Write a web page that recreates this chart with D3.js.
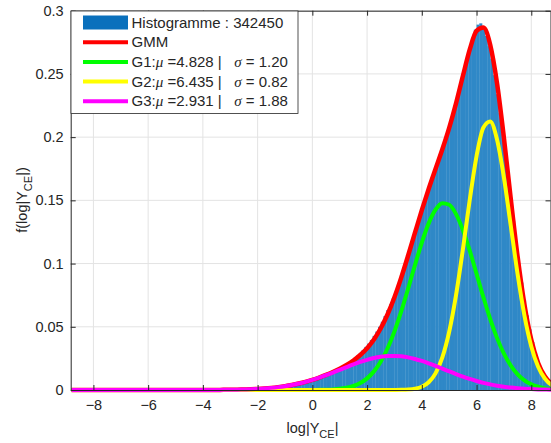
<!DOCTYPE html>
<html><head><meta charset="utf-8">
<script src="https://cdn.jsdelivr.net/npm/d3@7"></script>
<style>
body{margin:0;background:#fff}
svg{display:block}
text{font-family:"Liberation Sans",Arial,Helvetica,sans-serif;fill:#262626}
</style>
</head><body><svg id="c" width="551" height="443"></svg>
<script>
// ---------- data ----------
const curveX = [-8.8,-6,-4,-3.75,-3.5,-3.25,-3,-2.75,-2.5,-2.25,-2,-1.75,-1.5,-1.25,-1,-0.75,-0.5,-0.25,
  0,0.25,0.5,0.75,1,1.25,1.5,1.75,2,2.25,2.5,2.75,3,3.25,3.5,3.75,4,4.25,4.5,4.75,5,5.25,5.5,5.75,
  6,6.25,6.5,6.75,7,7.25,7.5,7.75,8,8.25,8.5,8.75,8.8];
const gmmY = [0,0,0.00003,0.00005,0.00008,0.00012,0.00019,0.00028,0.00042,0.00061,0.00087,0.00122,0.00168,0.00228,0.00303,0.00397,0.00511,0.00647,
  0.00806,0.00987,0.01192,0.01424,0.01685,0.01984,0.02337,0.02768,0.03309,0.04002,0.04884,0.05993,0.07339,0.08906,0.10637,0.12441,
  0.14221,0.15902,0.17479,0.19039,0.2073,0.22672,0.24833,0.26919,0.284,0.28666,0.27288,0.24232,0.19936,0.15123,0.10546,0.06752,
  0.03967,0.02141,0.01065,0.00489,0.00416];
const g1Y = [0,0,0,0,0,0,0,0,0,0,0,0,0,0,0,0,0,0,
  0.00005,0.0001,0.00022,0.00046,0.00091,0.00174,0.00317,0.00551,0.00921,0.01473,0.02254,0.03305,0.04638,0.06234,0.08023,0.09886,
  0.11665,0.13179,0.14257,0.14769,0.14649,0.13912,0.12653,0.11017,0.09185,0.07333,0.05608,0.04103,0.02877,0.01933,0.0124,0.00764,
  0.0045,0.00254,0.00137,0.00071,0.00062];
const g2Y = [0,0,0,0,0,0,0,0,0,0,0,0,0,0,0,0,0,0,
  0,0,0,0,0,0,0,0,0,0,0,0,0.00003,0.00011,0.00035,0.001,
  0.00259,0.00612,0.01316,0.02579,0.04607,0.07498,0.11119,0.15025,0.18503,0.20765,0.21234,0.19786,0.16799,0.12997,0.09165,0.05887,
  0.03446,0.01838,0.00894,0.00396,0.00333];
const g3Y = [0,0,0.00003,0.00005,0.00008,0.00012,0.00019,0.00028,0.00042,0.00061,0.00087,0.00122,0.00168,0.00228,0.00303,0.00397,0.00511,0.00646,
  0.00801,0.00977,0.0117,0.01378,0.01594,0.0181,0.0202,0.02217,0.02388,0.02529,0.0263,0.02688,0.02698,0.02661,0.02579,0.02455,
  0.02297,0.02111,0.01906,0.01691,0.01474,0.01262,0.01061,0.00877,0.00712,0.00568,0.00446,0.00343,0.0026,0.00193,0.00141,0.00101,
  0.00071,0.00049,0.00034,0.00022,0.00021];

const histStart = -3.0, histBinWidth = 0.1;
const histValues = [
  0.0002,0.0002,0.0002,0.0003,0.0003,0.0004,0.0004,0.0005,0.0006,0.0007,
  0.0008,0.0009,0.0010,0.0012,0.0014,0.0016,0.0018,0.0020,0.0023,0.0026,
  0.0029,0.0033,0.0036,0.0041,0.0046,0.0050,0.0056,0.0062,0.0069,0.0075,
  0.0082,0.0089,0.0096,0.0104,0.0113,0.0122,0.0131,0.0141,0.0152,0.0164,
  0.0177,0.0190,0.0204,0.0219,0.0236,0.0254,0.0272,0.0293,0.0316,0.0341,
  0.0367,0.0396,0.0428,0.0462,0.0500,0.0540,0.0585,0.0632,0.0677,0.0725,
  0.0778,0.0840,0.0905,0.0972,0.1040,0.1108,0.1180,0.1250,0.1318,0.1388,
  0.1458,0.1525,0.1590,0.1650,0.1712,0.1778,0.1840,0.1905,0.1970,0.2040,
  0.2110,0.2186,0.2268,0.2352,0.2440,0.2528,0.2620,0.2705,0.2785,0.2850,
  0.2890,0.2900,0.2860,0.2800,0.2720,0.2620,0.2490,0.2340,0.2190,0.2030,
  0.1870,0.1700,0.1520,0.1340,0.1160,0.0990,0.0850,0.0710,0.0590,0.0480,
  0.0380,0.0300,0.0220,0.0170,0.0125,0.0090,0.0067,0.0050];

const xTicks = [-8,-6,-4,-2,0,2,4,6,8];
const yTicks = [0,0.05,0.1,0.15,0.2,0.25,0.3];
const yTickLabels = ["0","0.05","0.1","0.15","0.2","0.25","0.3"];
const legendNames = ["Histogramme : 342450","GMM","G1","G2","G3"];
const gMu = ["4.828","6.435","2.931"];
const gSigma = ["1.20","0.82","1.88"];

// ---------- layout ----------
const L = 70.7, R = 551, T = 10.7, B = 390;
const svg = d3.select("#c");
const x = d3.scaleLinear().domain([-8.83, 8.72]).range([L, R]);
const y = d3.scaleLinear().domain([0, 0.3]).range([B, T]);
const gridCol = "#e3e3e3", axCol = "#262626";
const NB = "\u00a0";

// grid
svg.append("g").selectAll("line").data(xTicks).join("line")
  .attr("x1", d => x(d)).attr("x2", d => x(d)).attr("y1", T).attr("y2", B)
  .attr("stroke", gridCol).attr("stroke-width", 1);
svg.append("g").selectAll("line").data(yTicks).join("line")
  .attr("y1", d => y(d)).attr("y2", d => y(d)).attr("x1", L).attr("x2", R)
  .attr("stroke", gridCol).attr("stroke-width", 1);

// histogram
const bins = histValues.map((v, i) => ({x0: histStart + i * histBinWidth, x1: histStart + (i + 1) * histBinWidth, v}));
svg.append("g").selectAll("rect").data(bins).join("rect")
  .attr("x", d => x(d.x0)).attr("width", d => x(d.x1) - x(d.x0) + 0.3)
  .attr("y", d => y(d.v)).attr("height", d => y(0) - y(d.v))
  .attr("fill", "#2f88c7");

// curves
const mk = ys => curveX.map((cx, i) => [cx, ys[i]]);
const line = d3.line().x(d => x(d[0])).y(d => y(d[1])).curve(d3.curveMonotoneX);
const series = [
  {d: gmmY, c: "#ff0000", w: 4.5},
  {d: g1Y, c: "#00ff00", w: 4},
  {d: g2Y, c: "#ffff00", w: 4},
  {d: g3Y, c: "#ff00ff", w: 4}
];
series.forEach(s => {
  svg.append("path").attr("d", line(mk(s.d))).attr("fill", "none")
    .attr("stroke", s.c).attr("stroke-width", s.w).attr("stroke-linejoin", "round");
});

// axes
const xAxisB = d3.axisBottom(x).tickValues(xTicks).tickSizeInner(-5).tickSizeOuter(0).tickPadding(10);
const xAxisT = d3.axisTop(x).tickValues(xTicks).tickSizeInner(-5).tickSizeOuter(0).tickFormat("");
const yAxisL = d3.axisLeft(y).tickValues(yTicks).tickSizeInner(-5).tickSizeOuter(0).tickPadding(7)
  .tickFormat((d, i) => yTickLabels[i]);
const yAxisR = d3.axisRight(y).tickValues(yTicks).tickSizeInner(-5).tickSizeOuter(0).tickFormat("");
function style(g) {
  g.select(".domain").attr("stroke", axCol).attr("stroke-width", 1);
  g.selectAll(".tick line").attr("stroke", axCol).attr("stroke-width", 1);
  g.selectAll(".tick text").attr("fill", axCol).style("font-size", "14.5px")
    .style("font-family", '"Liberation Sans",Arial,sans-serif');
}
svg.append("g").attr("transform", `translate(0,${B})`).call(xAxisB).call(style);
svg.append("g").attr("transform", `translate(0,${T})`).call(xAxisT).call(style);
svg.append("g").attr("transform", `translate(${L},0)`).call(yAxisL).call(style);
svg.append("g").attr("transform", `translate(${R - 0.5},0)`).call(yAxisR).call(style);

// axis labels
const xl = svg.append("text").attr("x", 312.5).attr("y", 433).attr("text-anchor", "middle").style("font-size", "14.5px");
xl.append("tspan").text("log|Y");
xl.append("tspan").attr("dy", 5).style("font-size", "11px").text("CE");
xl.append("tspan").attr("dy", -5).text("|");
const yl = svg.append("text").attr("transform", "translate(27,200) rotate(-90)").attr("text-anchor", "middle").style("font-size", "14.5px");
yl.append("tspan").text("f(log|Y");
yl.append("tspan").attr("dy", 5).style("font-size", "11px").text("CE");
yl.append("tspan").attr("dy", -5).text("|)");

// legend
const lg = svg.append("g");
lg.append("rect").attr("x", 71).attr("y", 11).attr("width", 227).attr("height", 102.5)
  .attr("fill", "#fff").attr("stroke", axCol).attr("stroke-width", 0.8);
const rowY = i => 22.5 + i * 19.7;
lg.append("rect").attr("x", 83).attr("y", rowY(0) - 7).attr("width", 45).attr("height", 14).attr("fill", "#0a70bc");
const lcol = ["#ff0000", "#00ff00", "#ffff00", "#ff00ff"];
lcol.forEach((c, i) => {
  lg.append("line").attr("x1", 83).attr("x2", 128).attr("y1", rowY(i + 1)).attr("y2", rowY(i + 1))
    .attr("stroke", c).attr("stroke-width", 4);
});
const LF = "15px";
lg.append("text").attr("x", 131.5).attr("y", rowY(0) + 5).style("font-size", LF).text(legendNames[0]);
lg.append("text").attr("x", 131.5).attr("y", rowY(1) + 5).style("font-size", LF).text(legendNames[1]);
for (let k = 0; k < 3; k++) {
  const t = lg.append("text").attr("x", 131.5).attr("y", rowY(k + 2) + 5).style("font-size", LF);
  t.append("tspan").text(legendNames[k + 2] + ":");
  t.append("tspan").style("font-style", "italic").style("font-family", '"Liberation Serif",serif').text("\u03bc");
  t.append("tspan").text(NB + "=" + gMu[k] + NB + "|" + NB + NB + NB);
  t.append("tspan").style("font-style", "italic").style("font-family", '"Liberation Serif",serif').text("\u03c3");
  t.append("tspan").text(NB + "=" + NB + gSigma[k]);
}
</script>
</body></html>
